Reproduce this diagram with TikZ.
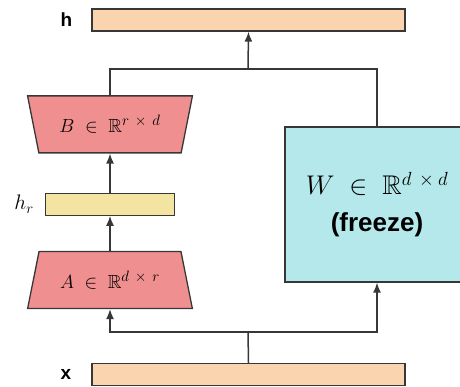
\RequirePackage{fix-cm}
\documentclass[tikz,border=0pt]{standalone}
\usepackage{amsmath, amssymb}
\usepackage{fontspec}
\setsansfont{Liberation Sans}
\usepackage{tikz}
\usetikzlibrary{positioning, shapes.geometric, arrows.meta}

\definecolor{barpeach}{RGB}{250,212,174}
\definecolor{lorared}{RGB}{239,143,143}
\definecolor{rankyellow}{RGB}{243,228,162}
\definecolor{frozencyan}{RGB}{180,232,234}
\definecolor{linegray}{RGB}{55,55,55}

% superscript set at a fixed, fairly large size
\newcommand{\dimsup}[2]{^{\mbox{\fontsize{#1}{#1}\selectfont$#2$}}}

\begin{document}
\begin{tikzpicture}[
  x=1pt, y=1pt,
  node distance=35pt,
  bar/.style     ={rectangle, draw=linegray, line width=1.3pt, fill=barpeach,
                   minimum width=313pt, minimum height=22pt, inner sep=0pt},
  lowrank/.style ={trapezium, trapezium angle=66, trapezium stretches=true,
                   draw=linegray, line width=1.3pt, fill=lorared, inner sep=0pt,
                   minimum width=165pt, minimum height=57pt,
                   font=\fontsize{19}{22}\selectfont},
  rankbar/.style ={rectangle, draw=linegray, line width=1.3pt, fill=rankyellow,
                   minimum width=129pt, minimum height=22pt, inner sep=0pt},
  frozen/.style  ={rectangle, draw=linegray, line width=1.3pt, fill=frozencyan,
                   minimum width=184pt, minimum height=155pt, align=center},
  tag/.style     ={inner sep=0pt, font=\fontsize{19}{21}\selectfont\sffamily\bfseries},
  link/.style    ={line width=1.5pt, linegray},
  flow/.style    ={-{Latex[length=10pt,width=8pt]}, line width=1.5pt, linegray}
]
\useasboundingbox (0,0) rectangle (460,387);

% ---------- input / output bars ----------
\node[bar] (xbar) at (248.5,12.5) {};
\node[bar] (hbar) at (248.5,367) {};
\node[tag, left=20pt of xbar] (xlab) {x};
\node[tag, left=19pt of hbar] (hlab) {h};

% ---------- low-rank branch ----------
\node[lowrank] (A) at (110,107) {$A \;\in\; \mathbb{R}\dimsup{15}{d\,\times\,r}$};
\node[rankbar, above=35pt of A] (hr) {};
\node[lowrank, shape border rotate=180, above=39pt of hr] (B) {$B \;\in\; \mathbb{R}\dimsup{15}{r\,\times\,d}$};
\node[inner sep=0pt, font=\fontsize{21}{24}\selectfont, left=11pt of hr] (hrlab) {$h_r$};

% ---------- frozen weight ----------
\node[frozen] (W) at (377,182.5)
  {\fontsize{27}{30}\selectfont$W \;\in\; \mathbb{R}\dimsup{19}{d\,\times d}$\\[16pt]
   \fontsize{26}{28}\selectfont\sffamily\bfseries (freeze)};

\coordinate (split) at (248,55);
\coordinate (merge) at (248,318);

% ---------- Arrows ----------
\draw[link] (xbar.north) -- (split);
\draw[flow] (split) -| (A.south);
\draw[flow] (split) -| (W.south);
\draw[flow] (A.north)  -- (hr.south);
\draw[flow] (hr.north) -- (B.south);
\draw[link] (B.north) |- (W.north |- merge) -- (W.north);
\draw[flow] (merge) -- (hbar.south);

\end{tikzpicture}
\end{document}
